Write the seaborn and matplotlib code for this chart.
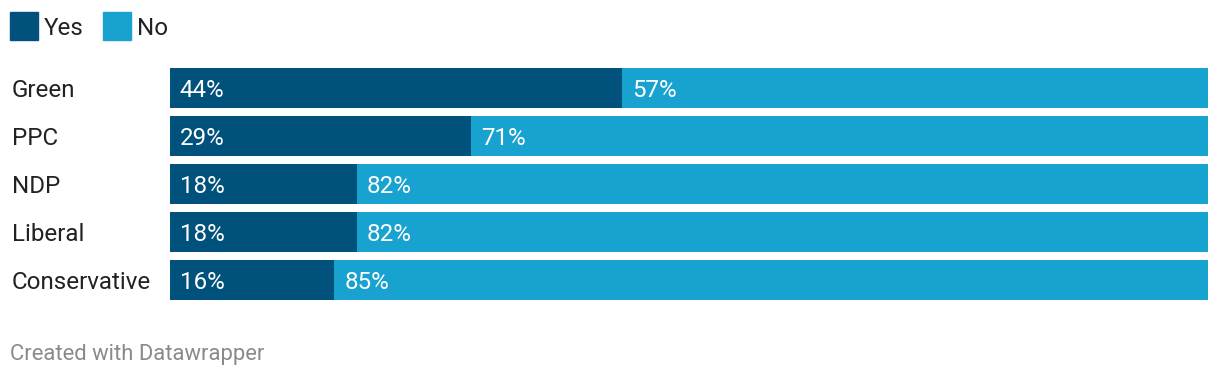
import numpy as np
import pandas as pd
import seaborn as sns
import matplotlib.pyplot as plt
from matplotlib.patches import Rectangle

parties = ['Green', 'PPC', 'NDP', 'Liberal', 'Conservative']
yes = [44, 29, 18, 18, 16]
no = [57, 71, 82, 82, 85]

dark = '#00527c'
light = '#18a2cf'

sns.set_theme(style='white')
plt.rcParams['font.family'] = ['Roboto', 'DejaVu Sans']

df = pd.DataFrame({'party': parties, 'yes': yes, 'no': no})
df['total'] = df['yes'] + df['no']
# bars fill the full width, so scale each row to its own total
df['yes_share'] = df['yes'] / df['total'] * 100
df['full'] = 100.0

fig = plt.figure(figsize=(12.2, 3.78), dpi=100)
ax = fig.add_axes([170 / 1220, 1 - 304 / 378, 1038 / 1220, 240 / 378])

sns.barplot(data=df, y='party', x='full', color=light, orient='h',
            width=0.833, saturation=1, linewidth=0, ax=ax)
sns.barplot(data=df, y='party', x='yes_share', color=dark, orient='h',
            width=0.833, saturation=1, linewidth=0, ax=ax)

ax.set_xlim(0, 100)
ax.set_ylim(4.5, -0.5)
ax.set_xlabel('')
ax.set_ylabel('')
ax.set_xticks([])
ax.set_yticks([])
for s in ax.spines.values():
    s.set_visible(False)

fs = 17.4
half_cap = -0.711 * fs / 2  # points, to centre cap height on a row


def label(txt, xy, coords, color, size=fs):
    ax.annotate(txt, xy=xy, xycoords=coords, xytext=(0, -0.711 * size / 2),
                textcoords='offset points', color=color, fontsize=size,
                va='baseline', ha='left', annotation_clip=False)


for i, row in df.iterrows():
    label(f"{row['yes']}%", (0.95, i), 'data', 'white')
    label(f"{row['no']}%", (row['yes_share'] + 0.95, i), 'data', 'white')
    label(row['party'], (12 / 1220, 1 - (88 + 48 * i) / 378), 'figure fraction', '#222222')

# legend
for x0, col, lab in [(10, dark, 'Yes'), (103, light, 'No')]:
    fig.patches.append(Rectangle((x0 / 1220, 1 - 40 / 378), 28 / 1220, 28 / 378,
                                 transform=fig.transFigure, color=col))
    label(lab, ((x0 + 34) / 1220, 1 - 26 / 378), 'figure fraction', '#222222')

label('Created with Datawrapper', (10 / 1220, 1 - 352 / 378), 'figure fraction',
      '#8a8a8a', size=15.8)

fig.savefig('out.png', dpi=100, facecolor='white')
